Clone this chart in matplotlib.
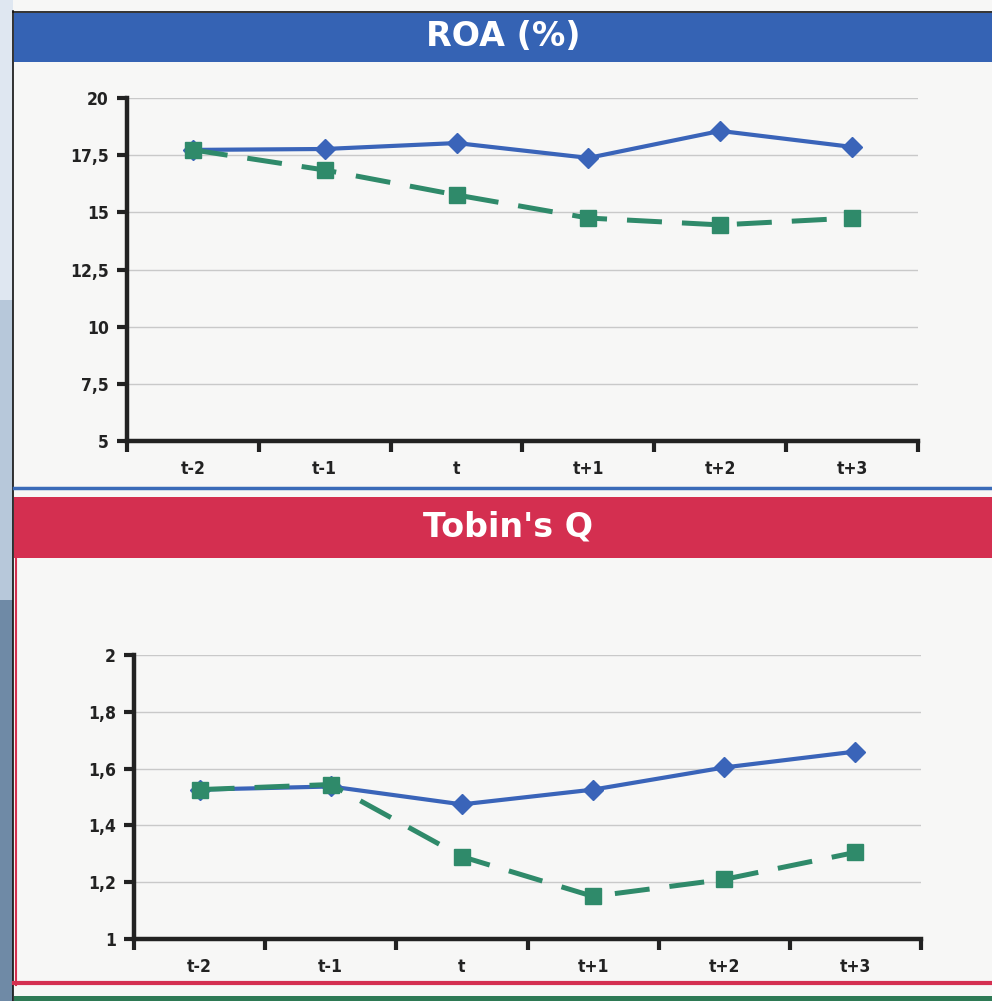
import matplotlib
matplotlib.use("Agg")
import matplotlib.pyplot as plt
from matplotlib.patches import Rectangle
from matplotlib.lines import Line2D

# ---- data ----
periods = ["t-2", "t-1", "t", "t+1", "t+2", "t+3"]
roa_blue = [17.73, 17.77, 18.03, 17.38, 18.56, 17.86]
roa_green = [17.73, 16.85, 15.76, 14.75, 14.45, 14.75]
roa_ticks = [5, 7.5, 10, 12.5, 15, 17.5, 20]
roa_ticklabels = ["5", "7,5", "10", "12,5", "15", "17,5", "20"]
q_blue = [1.526, 1.537, 1.474, 1.526, 1.604, 1.66]
q_green = [1.526, 1.544, 1.29, 1.15, 1.21, 1.305]
q_ticks = [1, 1.2, 1.4, 1.6, 1.8, 2]
q_ticklabels = ["1", "1,2", "1,4", "1,6", "1,8", "2"]
titles = ["ROA (%)", "Tobin's Q"]

W, H = 992, 1001

fig = plt.figure(figsize=(W / 100, H / 100), dpi=100)
fig.patch.set_facecolor("#f7f7f6")

def fx(x):
    return x / W

def fy(y):
    return 1 - y / H

def rect(x0, y0, x1, y1, color, z=0):
    fig.patches.append(Rectangle((fx(x0), fy(y1)), fx(x1) - fx(x0), fy(y0) - fy(y1),
                                 transform=fig.transFigure, facecolor=color,
                                 edgecolor="none", zorder=z))

def hline(x0, x1, y, color, lw):
    fig.lines.append(Line2D([fx(x0), fx(x1)], [fy(y), fy(y)], transform=fig.transFigure,
                            color=color, lw=lw, zorder=3))

def vline(x, y0, y1, color, lw):
    fig.lines.append(Line2D([fx(x), fx(x)], [fy(y0), fy(y1)], transform=fig.transFigure,
                            color=color, lw=lw, zorder=3))

# left photo strip
rect(0, 0, 13, 300, "#dfe7f1")
rect(0, 300, 13, 600, "#b7c8da")
rect(0, 600, 13, 1001, "#6f8aa6")
vline(13, 11, 1001, "#111111", 1.2)
# top border
hline(13, 992, 12, "#111111", 1.2)
# blue banner
rect(14, 13, 992, 62, "#3563b4", 1)
# blue separator line
hline(14, 992, 488, "#3b6bb8", 2.5)
# red banner
rect(14, 497, 992, 558, "#d42f50", 1)
vline(16, 558, 985, "#d42f50", 1.5)
# red bottom line
hline(14, 992, 983, "#d42f50", 3)
# green band
rect(14, 996, 992, 1001, "#2e7a55", 1)

fig.text(fx(503), fy(36), titles[0], color="white", fontsize=24, fontweight="bold",
         family="DejaVu Sans", ha="center", va="center", zorder=5)
fig.text(fx(508), fy(527), titles[1], color="white", fontsize=24, fontweight="bold",
         family="DejaVu Sans", ha="center", va="center", zorder=5)

blue = "#3a64b9"
green = "#2f8a6a"
axis_col = "#222222"
tick_font = dict(family="DejaVu Sans", fontsize=12.5, fontweight="semibold",
                 fontstretch="condensed", color="#222222")

def make_panel(rect_px, blue_vals, green_vals, ticks, ticklabels):
    l, t, r, b = rect_px
    ax = fig.add_axes([fx(l), fy(b), fx(r) - fx(l), fy(t) - fy(b)])
    ax.set_facecolor("none")
    x = list(range(len(periods)))
    ax.plot(x, blue_vals, color=blue, lw=3, marker="D", ms=10.5, mec=blue, mfc=blue,
            zorder=4, clip_on=False)
    ax.plot(x, green_vals, color=green, lw=3.6, marker="s", ms=11, mec=green, mfc=green,
            dashes=(7, 4), zorder=5, clip_on=False)
    ax.set_xlim(-0.5, len(periods) - 0.5)
    ax.set_ylim(ticks[0], ticks[-1])
    ax.set_yticks(ticks)
    ax.set_yticklabels(ticklabels, **tick_font)
    ax.set_xticks([i - 0.5 for i in range(len(periods) + 1)])
    ax.set_xticklabels([])
    ax.set_xticks(x, minor=True)
    ax.set_xticklabels(periods, minor=True, **tick_font)
    ax.tick_params(axis="x", which="major", direction="out", length=8, width=3, color=axis_col)
    ax.tick_params(axis="x", which="minor", length=0, pad=14)
    ax.tick_params(axis="y", direction="out", length=7, width=3, color=axis_col, pad=6)
    for s in ["top", "right"]:
        ax.spines[s].set_visible(False)
    for s in ["left", "bottom"]:
        ax.spines[s].set_color(axis_col)
        ax.spines[s].set_linewidth(3.2)
    ax.grid(axis="y", color="#c9c9c9", lw=1)
    ax.set_axisbelow(True)
    return ax

make_panel((127, 98, 918, 441), roa_blue, roa_green, roa_ticks, roa_ticklabels)
make_panel((134, 655, 921, 939), q_blue, q_green, q_ticks, q_ticklabels)

fig.savefig("out.png", dpi=100, facecolor=fig.get_facecolor())
